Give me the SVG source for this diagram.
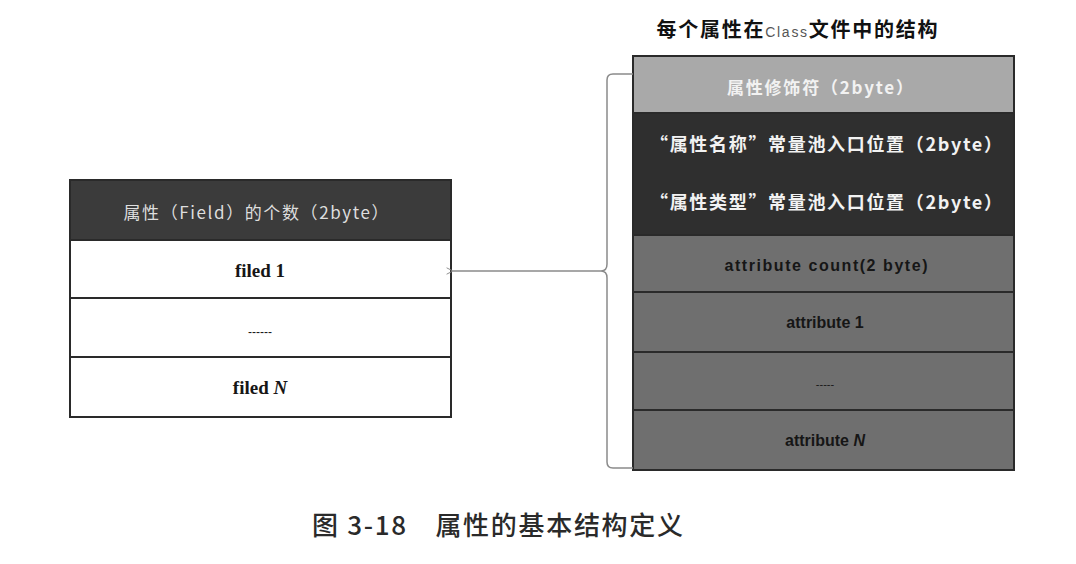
<svg xmlns="http://www.w3.org/2000/svg" width="1076" height="564" viewBox="0 0 1076 564">
  <style>
    .cjk { font-family: "Noto Sans CJK SC", "Liberation Sans", sans-serif; }
    .lat { font-family: "Liberation Sans", "Noto Sans", sans-serif; font-weight: bold; }
    .light { fill: #f2f2f2; }
    .dark { fill: #161616; }
    .cell { stroke: #2a2a2a; stroke-width: 2; }
  </style>
  <defs>
    <marker id="arrowOpen" viewBox="0 0 10 10" refX="1" refY="5" markerWidth="8" markerHeight="8" orient="auto-start-reverse" markerUnits="userSpaceOnUse">
      <path d="M9,1 L1,5 L9,9" fill="none" stroke="#8a8a8a" stroke-width="1.2"/>
    </marker>
  </defs>

  <rect width="1076" height="564" fill="#ffffff"/>

  <!-- Field table -->
  <g id="field-table">
    <rect x="70" y="180" width="381" height="60" fill="#3b3b3b" class="cell"/>
    <rect x="70" y="240" width="381" height="58" fill="#ffffff" class="cell"/>
    <rect x="70" y="298" width="381" height="59" fill="#ffffff" class="cell"/>
    <rect x="70" y="357" width="381" height="60" fill="#ffffff" class="cell"/>
    <text x="256" y="219" text-anchor="middle" class="cjk" fill="#dedede" font-size="17" textLength="265">属性（Field）的个数（2byte）</text>
    <text x="260" y="277" text-anchor="middle" font-family="Liberation Serif, serif" font-weight="bold" font-size="19" class="dark">filed 1</text>
    <text x="260" y="336" text-anchor="middle" font-family="Liberation Sans, sans-serif" font-size="12" class="dark">------</text>
    <text x="260" y="394" text-anchor="middle" font-family="Liberation Serif, serif" font-weight="bold" font-size="19" class="dark">filed <tspan font-style="italic">N</tspan></text>
  </g>

  <!-- Per-field structure -->
  <g id="field-structure">
    <text x="797" y="37" text-anchor="middle" class="cjk" font-weight="bold" font-size="20" fill="#111" textLength="281">每个属性在<tspan font-family="Liberation Sans, sans-serif" font-weight="normal" font-size="14" fill="#555">Class</tspan>文件中的结构</text>
    <rect x="633" y="56" width="381" height="57" fill="#a9a9a9" class="cell"/>
    <rect x="633" y="113" width="381" height="122" fill="#2f2f2f" stroke="#2a2a2a" stroke-width="2"/>
    <rect x="633" y="235" width="381" height="57" fill="#6f6f6f" class="cell"/>
    <rect x="633" y="292" width="381" height="60" fill="#6f6f6f" class="cell"/>
    <rect x="633" y="352" width="381" height="58" fill="#6f6f6f" class="cell"/>
    <rect x="633" y="410" width="381" height="60" fill="#6f6f6f" class="cell"/>
    <text x="820" y="94" text-anchor="middle" class="cjk light" font-size="17" font-weight="bold" textLength="186">属性修饰符（2byte）</text>
    <text x="826" y="151" text-anchor="middle" class="cjk light" font-size="18" font-weight="bold" textLength="352">“属性名称”常量池入口位置（2byte）</text>
    <text x="826" y="209" text-anchor="middle" class="cjk light" font-size="18" font-weight="bold" textLength="352">“属性类型”常量池入口位置（2byte）</text>
    <text x="826" y="271" text-anchor="middle" class="lat dark" font-size="16" textLength="203">attribute count(2 byte)</text>
    <text x="825" y="328" text-anchor="middle" class="lat dark" font-size="16">attribute 1</text>
    <text x="825" y="388" text-anchor="middle" font-family="Liberation Sans, sans-serif" font-size="11" class="dark">-----</text>
    <text x="825" y="446" text-anchor="middle" class="lat dark" font-size="16">attribute <tspan font-style="italic">N</tspan></text>
  </g>

  <!-- Connectors -->
  <g id="connectors" fill="none" stroke="#8a8a8a" stroke-width="1.5">
    <path d="M633,74 L613,74 Q607,74 607,80 L607,264 Q607,271 601,271 Q607,271 607,278 L607,462 Q607,468 613,468 L633,468"/>
    <path d="M601,271 L453,271" marker-end="url(#arrowOpen)"/>
  </g>

  <!-- Caption -->
  <text x="312" y="535" class="cjk" font-size="26" font-weight="500" fill="#2a2a2a" textLength="371">图 3-18　属性的基本结构定义</text>
</svg>
